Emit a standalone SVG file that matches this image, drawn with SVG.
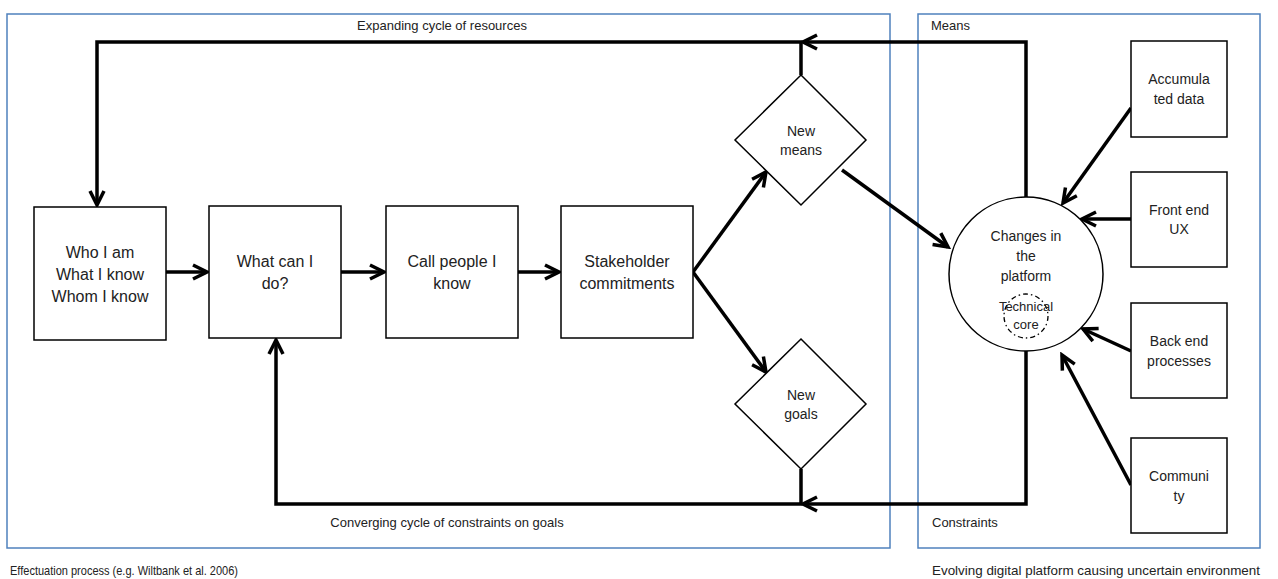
<svg xmlns="http://www.w3.org/2000/svg" width="1278" height="579" viewBox="0 0 1278 579">
<style>
.frame{fill:none;stroke:#4F81BD;stroke-width:1.5}
.node{fill:#fff;stroke:#000;stroke-width:1.5}
.conn{fill:none;stroke:#000;stroke-width:3.5;stroke-linejoin:miter}
.t16{font-family:"Liberation Sans",Arial,sans-serif;font-size:16px;fill:#222;text-anchor:middle}
.t14{font-family:"Liberation Sans",Arial,sans-serif;font-size:14px;fill:#222;text-anchor:middle}
.t13{font-family:"Liberation Sans",Arial,sans-serif;font-size:13px;fill:#222;text-anchor:middle}
.cap{font-family:"Liberation Sans",Arial,sans-serif;font-size:13px;fill:#222}
</style>
<defs>
<marker id="arr" viewBox="-3 -3 20 20" refX="14" refY="7" markerWidth="20" markerHeight="20" markerUnits="userSpaceOnUse" orient="auto">
<path d="M0,0 L14,7 L0,14" fill="none" stroke="#000" stroke-width="3.5" stroke-linejoin="miter"/>
</marker>
</defs>

<g id="frames">
<rect class="frame" x="7" y="14" width="883" height="534"/>
<rect class="frame" x="918" y="14" width="342" height="534"/>
</g>

<g id="captions">
<text class="cap" x="442" y="30" text-anchor="middle">Expanding cycle of resources</text>
<text class="cap" x="931" y="30">Means</text>
<text class="cap" x="447" y="527" text-anchor="middle">Converging cycle of constraints on goals</text>
<text class="cap" x="932" y="527">Constraints</text>
<text class="cap" x="10" y="575" textLength="228" lengthAdjust="spacingAndGlyphs">Effectuation process (e.g. Wiltbank et al. 2006)</text>
<text class="cap" x="932" y="575" textLength="328" lengthAdjust="spacingAndGlyphs">Evolving digital platform causing uncertain environment</text>
</g>

<g id="connectors">
<path class="conn" d="M1026,197 V42 H803" marker-end="url(#arr)"/>
<path class="conn" d="M801,75 V42 H97 V205" marker-end="url(#arr)"/>
<path class="conn" d="M1026,351 V504 H803" marker-end="url(#arr)"/>
<path class="conn" d="M801,469 V504 H276 V340" marker-end="url(#arr)"/>
<path class="conn" d="M166,272 H207" marker-end="url(#arr)"/>
<path class="conn" d="M341,272 H384" marker-end="url(#arr)"/>
<path class="conn" d="M518,272 H559" marker-end="url(#arr)"/>
<path class="conn" d="M693,272 L766,172" marker-end="url(#arr)"/>
<path class="conn" d="M693,272 L766,372" marker-end="url(#arr)"/>
<path class="conn" d="M842,170 L948,247" marker-end="url(#arr)"/>
<path class="conn" d="M1131,108 L1063,203" marker-end="url(#arr)"/>
<path class="conn" d="M1131,219 L1082,219" marker-end="url(#arr)"/>
<path class="conn" d="M1131,351 L1083,329" marker-end="url(#arr)"/>
<path class="conn" d="M1131,485 L1062,355" marker-end="url(#arr)"/>
</g>

<g id="who">
<rect class="node" x="34" y="207" width="132" height="133"/>
<text class="t16" x="100" y="258">Who I am</text>
<text class="t16" x="100" y="280">What I know</text>
<text class="t16" x="100" y="302">Whom I know</text>
</g>
<g id="whatcan">
<rect class="node" x="209" y="206" width="132" height="132"/>
<text class="t16" x="275" y="267">What can I</text>
<text class="t16" x="275" y="289">do?</text>
</g>
<g id="callpeople">
<rect class="node" x="386" y="206" width="132" height="132"/>
<text class="t16" x="452" y="267">Call people I</text>
<text class="t16" x="452" y="289">know</text>
</g>
<g id="stakeholder">
<rect class="node" x="561" y="206" width="132" height="132"/>
<text class="t16" x="627" y="267">Stakeholder</text>
<text class="t16" x="627" y="289">commitments</text>
</g>
<g id="newmeans">
<polygon class="node" points="801,75 866,140 801,205 735,140"/>
<text class="t14" x="801" y="136">New</text>
<text class="t14" x="801" y="155">means</text>
</g>
<g id="newgoals">
<polygon class="node" points="801,339 866,404 801,469 735,404"/>
<text class="t14" x="801" y="400">New</text>
<text class="t14" x="801" y="419">goals</text>
</g>
<g id="platform">
<circle class="node" cx="1026" cy="274" r="77"/>
<text class="t14" x="1026" y="241">Changes in</text>
<text class="t14" x="1026" y="261">the</text>
<text class="t14" x="1026" y="281">platform</text>
<circle cx="1026" cy="316" r="22" fill="none" stroke="#000" stroke-width="1.3" stroke-dasharray="5,3,1.5,3"/>
<text class="t13" x="1026" y="311">Technical</text>
<text class="t13" x="1026" y="329">core</text>
</g>
<g id="accumulated">
<rect class="node" x="1131" y="41" width="96" height="96"/>
<text class="t14" x="1179" y="84">Accumula</text>
<text class="t14" x="1179" y="104">ted data</text>
</g>
<g id="frontend">
<rect class="node" x="1131" y="172" width="96" height="95"/>
<text class="t14" x="1179" y="215">Front end</text>
<text class="t14" x="1179" y="234">UX</text>
</g>
<g id="backend">
<rect class="node" x="1131" y="303" width="96" height="95"/>
<text class="t14" x="1179" y="346">Back end</text>
<text class="t14" x="1179" y="366">processes</text>
</g>
<g id="community">
<rect class="node" x="1131" y="438" width="96" height="95"/>
<text class="t14" x="1179" y="481">Communi</text>
<text class="t14" x="1179" y="501">ty</text>
</g>
</svg>
